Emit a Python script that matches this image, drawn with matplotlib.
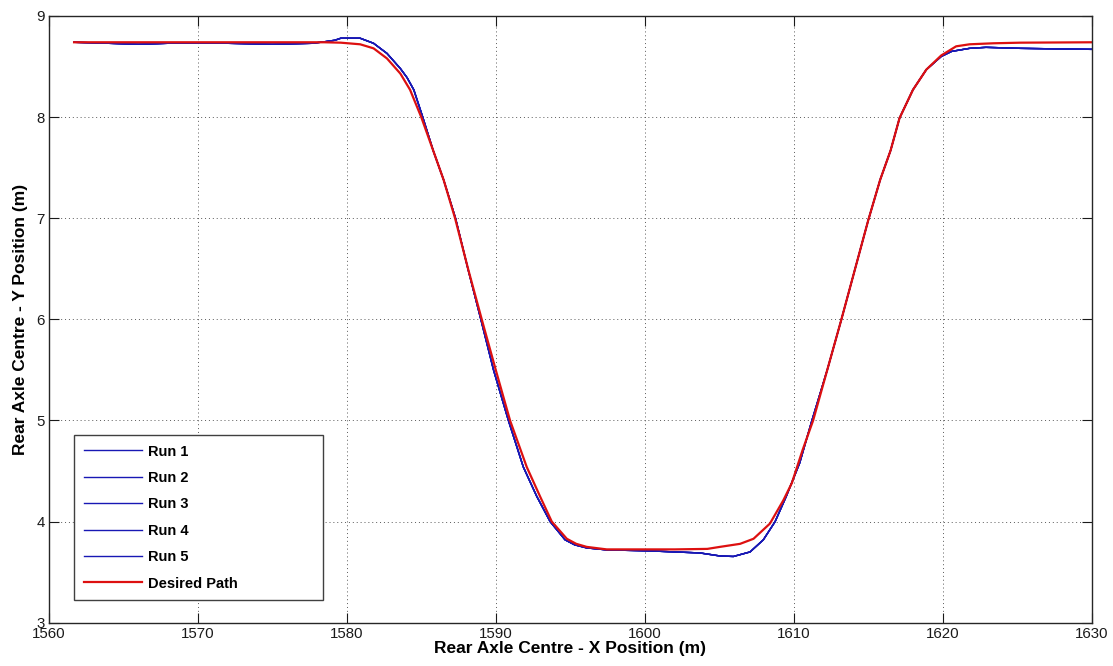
import matplotlib
matplotlib.use("Agg")
import matplotlib.pyplot as plt

plt.rcParams['font.family'] = ['Liberation Sans', 'DejaVu Sans']

# Rear axle centre trajectory recorded on each run (all five runs track the same line)
run_x = [1561.7, 1564.0, 1566.0, 1568.0, 1572.0, 1575.0, 1577.7, 1578.5, 1579.2,
         1579.6, 1580.9, 1581.8, 1582.7, 1583.6, 1584.05, 1584.5, 1585.1, 1585.8,
         1586.5, 1587.3, 1588.15, 1589.0, 1589.85, 1590.85, 1591.85, 1592.75,
         1593.65, 1594.65, 1595.3, 1596.1, 1597.45, 1599.0, 1600.4, 1602.0,
         1603.7, 1605.05, 1605.95, 1607.07, 1607.96, 1608.75, 1609.5, 1610.4,
         1611.2, 1612.25, 1613.2, 1614.1, 1615.0, 1615.8, 1616.5,
         1617.1, 1618.0, 1618.9, 1619.9, 1620.6, 1621.8, 1622.9, 1625.2,
         1627.5, 1630.0]
run_y = [8.74, 8.73, 8.72, 8.73, 8.73, 8.72, 8.73, 8.745, 8.76,
         8.78, 8.78, 8.73, 8.63, 8.48, 8.39, 8.27, 8.00, 7.67,
         7.38, 7.00, 6.49, 6.00, 5.50, 5.00, 4.54, 4.25,
         4.00, 3.82, 3.77, 3.74, 3.72, 3.715, 3.71, 3.70,
         3.69, 3.66, 3.655, 3.70, 3.82, 4.00, 4.25, 4.58,
         4.99, 5.50, 6.00, 6.49, 6.98, 7.38, 7.67,
         7.99, 8.27, 8.47, 8.60, 8.65, 8.68, 8.69, 8.68,
         8.675, 8.67]
run_labels = ['Run 1', 'Run 2', 'Run 3', 'Run 4', 'Run 5']

# Desired lane-change path
path_x = [1561.7, 1570.0, 1578.5, 1579.6, 1580.9, 1581.8, 1582.7, 1583.6,
          1584.25, 1585.0, 1585.8, 1586.5, 1587.27, 1588.16, 1589.06, 1590.0,
          1590.96, 1592.08, 1592.97, 1593.76, 1594.77, 1595.4,
          1596.1, 1597.45, 1599.7, 1602.0, 1604.2, 1605.05, 1606.4, 1607.3,
          1608.4, 1609.3, 1609.87, 1610.6, 1611.3, 1612.25, 1613.2,
          1614.1, 1615.0, 1615.8, 1616.5, 1617.1, 1618.0, 1618.9, 1619.9,
          1620.9, 1621.8, 1623.4, 1625.2, 1630.0]
path_y = [8.74, 8.74, 8.74, 8.736, 8.72, 8.68, 8.58, 8.43,
          8.27, 8.00, 7.67, 7.38, 7.00, 6.49, 6.00, 5.50,
          5.00, 4.54, 4.25, 4.00, 3.83, 3.78,
          3.75, 3.725, 3.725, 3.725, 3.73, 3.75, 3.78, 3.83,
          3.98, 4.21, 4.38, 4.71, 5.00, 5.50, 6.00,
          6.49, 6.98, 7.38, 7.67, 7.99, 8.27, 8.47, 8.61,
          8.70, 8.72, 8.73, 8.736, 8.74]

x_ticks = [1560, 1570, 1580, 1590, 1600, 1610, 1620, 1630]
y_ticks = [3, 4, 5, 6, 7, 8, 9]

fig = plt.figure(figsize=(11.13, 6.66), dpi=100)
ax = fig.add_axes([0.0438, 0.065, 0.9371, 0.911])

for lab in run_labels:
    ax.plot(run_x, run_y, color='#1818b4', lw=1.0, label=lab)
ax.plot(path_x, path_y, color='#dd1010', lw=1.6, label='Desired Path')

ax.set_xlim(1560, 1630)
ax.set_ylim(3, 9)
ax.set_xticks(x_ticks)
ax.set_yticks(y_ticks)
ax.tick_params(direction='in', length=7, width=0.8, top=True, right=True,
               labelsize=10.8, colors='0.1', pad=3)
ax.grid(True, color='0.35', linestyle=(0, (1, 3)), lw=0.7)
for sp in ax.spines.values():
    sp.set_color('0.15')
    sp.set_linewidth(1.0)

ax.set_xlabel('Rear Axle Centre - X Position (m)', fontsize=12.5,
              fontweight='bold', labelpad=0)
ax.set_ylabel('Rear Axle Centre - Y Position (m)', fontsize=12.5,
              fontweight='bold', labelpad=6)

leg = ax.legend(loc='lower left', bbox_to_anchor=(0.0243, 0.0374, 0.2387, 0.27),
                mode='expand', prop={'weight': 'bold', 'size': 10.5},
                handlelength=4.0, handletextpad=0.4, labelspacing=0.85,
                borderpad=0.65, borderaxespad=0, fancybox=False,
                edgecolor='0.25', framealpha=1)
leg.get_frame().set_linewidth(1.0)

fig.savefig('out.png', dpi=100)
